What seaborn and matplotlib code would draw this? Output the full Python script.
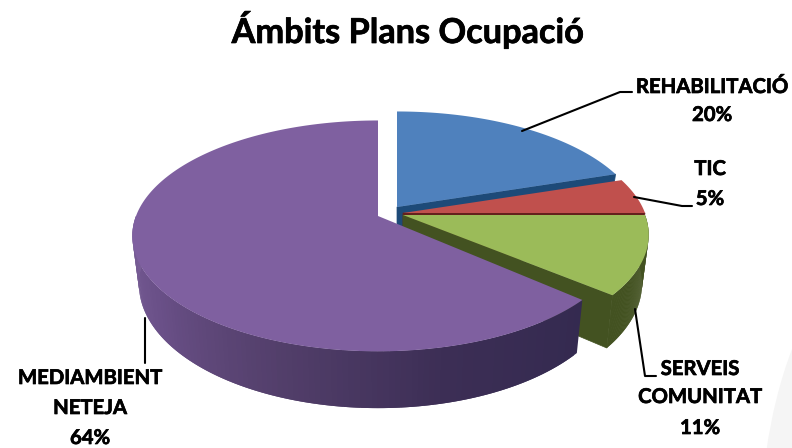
import numpy as np
import matplotlib
matplotlib.use('Agg')
import matplotlib.pyplot as plt
import matplotlib.patheffects as pe
from matplotlib.patches import Ellipse
import seaborn as sns

# === Data ===
ambits = ['REHABILITACIÓ', 'TIC', 'SERVEIS\nCOMUNITAT', 'MEDIAMBIENT\nNETEJA']
percents = [20, 5, 11, 64]
title = 'Ámbits Plans Ocupació'

top_colors = ['#4f81bd', '#c0504d', '#9bbb59', '#7f60a0']
cut_colors = ['#1d4a78', '#64201d', '#435221', '#3a2d55']
purple_wall = ['#342a50', '#3c2e55', '#533f6b', '#6a5088', '#7a5f98']
green_wall = ['#435221', '#435221']

sns.set_theme(style='white')
plt.rcParams['font.family'] = ['Lato', 'DejaVu Sans']

# pie shape, in pixels of the axes below
RX, RY, DEPTH, PERSP = 242, 112, 47, 0.1724
apex_x = [397, 403, 403, 378]
apex_y = [207, 213, 215, 216]
start_gap = [0, 0, 0, np.radians(2)]


def project(cx, cy, theta, z=0.0):
    # theta clockwise from 12 o'clock, z=1 is the bottom of the pie
    w = 1 + PERSP * np.cos(theta)
    px = cx + RX * np.sin(theta) / w * (1 - 0.027 * z)
    py = cy - RY * np.cos(theta) / w + DEPTH * z / w
    return px, py


fig, ax = plt.subplots(figsize=(7.92, 4.48), dpi=100)
ax.set_position([0, 0, 1, 1])
ax.set_xlim(0, 792)
ax.set_ylim(448, 0)
ax.axis('off')

# faint shape in the corner
ax.add_patch(Ellipse((900, 540), 280, 600, color='#f5f5f5', lw=0, zorder=0))

edges = np.radians(np.cumsum([0] + percents) * 3.6)

for i in range(len(percents)):
    cx, cy = apex_x[i], apex_y[i]
    start, end = edges[i] + start_gap[i], edges[i + 1]
    th = np.linspace(start, end, 200)

    # cut face on the clockwise end (hidden for the big slice, it faces away)
    if i < 3:
        xa, ya = project(cx, cy, end, 1)
        xb, yb = project(cx, cy, end, 0)
        ax.fill([cx, xb, xa, cx], [cy, yb, ya, cy + DEPTH], color=cut_colors[i], lw=0.5, zorder=2 + i * 2)

    # outer wall, only the part that faces us
    lo, hi = max(start, np.pi / 2), min(end, 1.5 * np.pi)
    if hi > lo:
        n = 120
        wall_th = np.linspace(lo, hi, n + 1)
        wall_cols = sns.blend_palette(purple_wall if i == 3 else green_wall, n_colors=n)
        for j in range(n):
            # each strip runs under the next one so no seams show
            t = wall_th[j:j + 3]
            x0, y0 = project(cx, cy, t, 0)
            x1, y1 = project(cx, cy, t, 1)
            ax.fill(np.r_[x0, x1[::-1]], np.r_[y0, y1[::-1]], color=wall_cols[j], lw=0, zorder=2 + i * 2)

    # top face
    px, py = project(cx, cy, th)
    ax.fill(np.r_[cx, px], np.r_[cy, py], color=top_colors[i], lw=0, zorder=3 + i * 2)

# leader lines
line_x = [[522, 620, 632], [634, 682, 692], [635, 645, 656], [145, 145]]
line_y = [[131, 92, 92], [197, 206, 206], [309, 376, 376], [318, 363]]
for lx, ly in zip(line_x, line_y):
    ax.plot(lx, ly, color='black', lw=1.5, zorder=20)

# labels, Lato bold is a bit lighter than the original face so thicken it
heavy = [pe.withStroke(linewidth=0.5, foreground='black')]
label_x = [712, 710, 700, 90]
label_y = [[87, 115], [169, 199], [369, 397, 428], [378, 408, 438]]
for name, pct, lx, ly in zip(ambits, percents, label_x, label_y):
    for text, y in zip(name.split('\n') + [f'{pct}%'], ly):
        ax.text(lx, y, text, ha='center', va='center', fontsize=14.6, fontweight='bold', color='black',
                zorder=21, path_effects=heavy)

ax.text(407.5, 30, title, ha='center', va='center', fontsize=24.7, fontweight='bold', color='black',
        path_effects=heavy)

fig.savefig('out.png', dpi=100)
